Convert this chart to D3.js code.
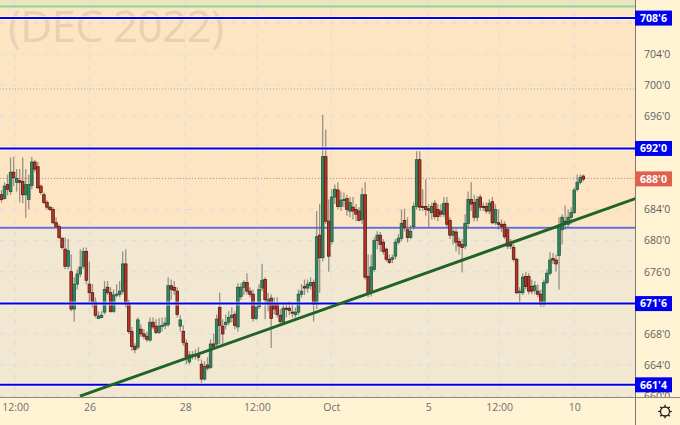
<!DOCTYPE html>
<html>
<head>
<meta charset="utf-8">
<script src="https://cdnjs.cloudflare.com/ajax/libs/d3/7.8.5/d3.min.js"></script>
<style>
  html, body { margin: 0; padding: 0; background: #fff3d4; }
  svg { display: block; }
  text { font-family: "Open Sans", sans-serif; }
</style>
</head>
<body>
<div id="chart"></div>
<script>
// candles
const opens = [685.9,685.4,687.2,686.3,688.8,687.5,687.7,687.6,685.9,685.3,687.1,690.1,689.5,687,685.9,684.9,684.3,684,682.3,681.8,680.3,678.9,676.7,676,671.2,674.4,675.7,676.7,678.6,674.4,673.3,672.1,670,670.1,670.8,674,673.3,670.9,673,673.1,673.5,677,671.8,668.3,666.4,666.3,668.6,668,667.7,667.2,669.5,669,668.2,669,669.1,669.2,674.2,674,673.5,669,668.3,666.8,664.4,665.1,665.3,665.3,664.1,662.2,664,663.7,666.7,666.7,671.4,669,669.2,669.5,670.1,670.5,668.9,672.8,674,674.6,673.5,673.1,670,671.5,673.9,675,671.8,672.6,671.8,671.8,670.4,669.5,671.3,671.3,670.8,670.5,670.8,673.1,674.1,673.9,674.2,674.6,671.8,680.7,677.8,690.8,682.5,679.9,685.6,686.5,684.4,685.2,685.4,683.8,684.3,684,683.8,682.7,685.9,675.4,673.3,676.3,680,680.7,679.8,678.9,677.6,677.6,678,679.8,680.3,682.6,681.4,680.4,681.8,684.4,690.4,684.4,684.4,684.1,683.6,684.8,684,683.8,683.4,684.8,682.6,680.7,681.1,679.9,679.5,679.3,682.2,685.3,684.9,683,685.6,684.4,684.4,683.8,685,682.3,682.3,682.1,682.1,681.4,679.5,679.1,677.6,673.3,673.3,675.4,675.4,674.1,673.6,673.5,673.1,671.8,674.6,675.8,677.7,677.5,678.1,681.4,682.5,682.1,683,683.6,686.6,687.5,688.3];
const closes = [685.3,687,686.6,688.8,688.1,688,687.5,685.9,687.2,687.2,690.1,689.2,686.8,686.2,684.9,684.3,684,682.3,681.8,680.4,679.1,676.7,678.7,671.2,674.4,675.7,676.6,678.6,674.9,673.3,672.2,670.4,670.3,670.4,673.7,673.3,670.9,673,673.1,673.5,677,671.8,668.3,666.4,666,669.8,668,667.7,667.3,669.5,668.9,668.2,669,669.1,669.4,674.2,673.7,673.6,670.5,669.8,666.9,665.1,665.3,665.3,665.4,665,662.2,663.8,663.6,666.7,666.4,669.9,669.1,668,669.5,670.1,670.4,669.1,674,674,674.6,673.5,673.1,670,671.4,673.7,674.9,672.4,672.4,670,671.2,670.5,669.6,671.3,671.2,671,670.7,670.8,673.1,673.5,673.9,674.4,674.6,671.8,680.5,677.8,690.8,682.5,678,685.6,686.6,684.4,685.2,685.3,684,684.9,683.8,683.4,682.6,685.9,675.3,673.3,676.6,680,680.7,679.5,678.6,677.6,677.2,677.8,679.8,680.3,682.2,681.7,680.4,681.2,684.4,690.4,684.3,684.3,684,683.9,684.4,683.1,683.1,683.4,684.8,682.1,680.7,681.2,679.8,679.3,679.1,682.2,685.3,684.7,683,685.3,684.3,684.3,683.8,684.8,682.3,684,682.1,681.8,680.5,679.3,679.3,677.6,673.3,673.5,675.3,674.1,673.5,673.5,674.2,673.1,671.8,674.6,675.8,677.5,677.5,677,682,683,682.2,683,683.6,686.5,687.5,688.1,687.9];
const highs = [686.5,687.5,688.5,690.7,690.8,689.2,689.2,690.7,689.2,688.5,690.8,690.4,690.1,687.2,686.2,685.2,684.4,684.3,683,682.1,680.5,680.4,680.2,678.2,675.3,676.3,678.9,679.1,679.1,677.3,674.4,672.7,670.9,670.9,674.8,674.8,674,673.7,674.4,674.8,678.6,678.9,672.4,668.9,666.8,670.1,669.2,668.6,668.3,670.1,670.1,669.9,670,670.1,670.1,675.3,675,674.8,674,670.4,669.1,667.3,665.8,665.8,666,666.3,664.7,664.5,665,667.3,668,670.5,673.3,669.9,670.5,670.9,671.4,670.9,674.5,674.5,674.9,675.8,674,673.7,671.8,674.4,677,675.3,673.3,673.1,672.7,672.7,671.2,671.8,672.1,672.2,671.8,671.4,673.7,674.4,675,675,675.3,675,683.8,684.7,696.2,694.3,685.3,686.6,687.2,687.5,686.3,686.2,685.9,685.6,685.6,684.7,684.3,686.8,687.5,678.2,678.2,680.4,681.2,681.1,680.2,679.1,678.2,678.2,680.2,680.8,684,684.1,683,682,684.9,691.5,691.5,686.6,687.9,684.7,684.9,685.2,684.7,684.7,685.6,685.6,683,681.7,681.7,680.4,680.2,683.4,686.3,687.5,685.9,685.7,685.9,684.9,684.9,685.3,685.6,684.7,684,682.7,682.5,681.7,680.2,679.5,677.8,674,675.8,676,675.8,675,674.8,674.4,673.7,675,676.3,678.5,678.4,678.2,683,683.4,684.5,684,684.3,686.8,688.5,688.5,688.5];
const lows = [684.9,685.3,685.8,685.9,687,686.3,684.9,684.8,682.9,684,686.6,688.8,686.6,685.9,684.7,684,683.8,682.1,681.6,680.2,678.9,676.3,676.3,670.9,669.6,673.7,675.3,676.3,674.4,671.8,671.4,670.1,669.9,670,670.5,673,670.7,670.7,672.7,672.7,673.1,671.4,668,665.8,665.5,666,667.6,667.3,667,667,668.6,668,668,668.3,668.6,668.9,672.4,673,670.1,668.3,666.5,664.1,664.1,664.7,664.7,664.5,661.5,662,663.3,663.5,666,666.4,666.7,666.7,668.6,669.1,669.5,668.6,668.3,672.4,673,673.1,672.7,669.6,669.8,671.2,673.5,669.9,670.9,666.2,670.5,670.1,669.1,669.2,670.1,670.4,670.1,670.1,670.4,672.7,673,673.3,673.7,669.6,671.2,673.3,677.3,682.1,676,679.5,684.7,684,683.8,684.3,683.2,683,682.7,682.5,682.5,682.1,675,672.7,672.8,676,678.9,678.6,678.2,677.3,677,677.1,677.6,679.5,679.9,681.2,679.8,680.2,681.4,684,683.8,683.8,683.2,681.7,682.7,682.7,682.5,683,683,681.7,680.2,679.5,678.6,678.2,675.9,678.9,681.7,683.8,682.5,682.5,683.8,683.8,683.5,683.4,682.1,682,681.4,681.1,680.2,678.9,678.9,677.3,673.1,672.1,673,673.7,673.1,673.1,673.1,672.7,671.5,671.5,674.4,675.5,677,676,673.7,679.5,681.4,681.7,682.1,683.4,686.3,687.2,687.6];

// price levels
const tickPrices = [708, 704, 700, 696, 692, 688, 684, 680, 676, 672, 668, 664, 660];
const bluePrices = [708.62, 691.85, 671.9, 661.45];
const blueLabels = ["708'6", "692'0", "671'6", "661'4"];
const zoneTop = 710.1, zoneSplit = 681.65, dottedLevel = 699.5;
const lastPrice = 688, lastLabel = "688'0";

// time axis, positions given in candle numbers
const timeTicks = [4.5, 29, 60.6, 84.3, 108.8, 140.8, 164.2, 189];
const timeLabels = ["12:00", "26", "28", "12:00", "Oct", "5", "12:00", "10"];

// trend line ends, candle number and price
const trendIdx = [25.9, 209.2];
const trendPrice = [660, 685.4];

const width = 680, height = 425;
const plotW = 635, plotH = 397;

const x = d3.scaleLinear().domain([0, 192]).range([1.5, 583.3]);
const y = d3.scaleLinear().domain([704, 664]).range([54, 365]);

const svg = d3.select("#chart").append("svg")
    .attr("width", width)
    .attr("height", height);

svg.append("defs").append("clipPath").attr("id", "plotClip")
    .append("rect").attr("width", plotW).attr("height", plotH);

// Backgrounds
svg.append("rect").attr("width", width).attr("height", height).attr("fill", "#fff3d4");
const plot = svg.append("g").attr("clip-path", "url(#plotClip)");
plot.append("rect").attr("width", plotW).attr("height", plotH).attr("fill", "#f2e7d1");
plot.append("rect").attr("width", plotW).attr("y", y(zoneTop))
    .attr("height", y(zoneSplit) - y(zoneTop)).attr("fill", "#fde5c3");
plot.append("rect").attr("width", plotW).attr("height", y(zoneTop)).attr("fill", "#ebe4bd");

// Watermark
plot.append("text")
    .attr("x", 8).attr("y", 42)
    .attr("font-size", 44)
    .attr("textLength", 216)
    .attr("fill", "rgba(120, 100, 80, 0.18)")
    .text("(DEC 2022)");

// Grid
plot.append("g").selectAll("line").data(tickPrices).join("line")
    .attr("x1", 0).attr("x2", plotW)
    .attr("y1", d => y(d)).attr("y2", d => y(d))
    .attr("stroke", "#dcdcdc").attr("stroke-width", 1).attr("stroke-dasharray", "5 6");
plot.append("g").selectAll("line").data(timeTicks).join("line")
    .attr("x1", d => x(d)).attr("x2", d => x(d))
    .attr("y1", 0).attr("y2", plotH)
    .attr("stroke", "#dcdcdc").attr("stroke-width", 1).attr("stroke-dasharray", "5 6");

// Zone edges and dotted levels
plot.append("line").attr("x1", 0).attr("x2", plotW)
    .attr("y1", y(zoneTop)).attr("y2", y(zoneTop))
    .attr("stroke", "#8ed6a0").attr("stroke-width", 2);
plot.append("line").attr("x1", 0).attr("x2", plotW)
    .attr("y1", y(dottedLevel)).attr("y2", y(dottedLevel))
    .attr("stroke", "#a8a8a8").attr("stroke-dasharray", "1 2");
plot.append("line").attr("x1", 0).attr("x2", plotW)
    .attr("y1", y(lastPrice)).attr("y2", y(lastPrice))
    .attr("stroke", "#e0807a").attr("stroke-dasharray", "1 2");
plot.append("line").attr("x1", 0).attr("x2", plotW)
    .attr("y1", y(zoneSplit) - 1.5).attr("y2", y(zoneSplit) - 1.5)
    .attr("stroke", "#fff7c8").attr("stroke-width", 1);
plot.append("line").attr("x1", 0).attr("x2", plotW)
    .attr("y1", y(zoneSplit)).attr("y2", y(zoneSplit))
    .attr("stroke", "#6a6ae0").attr("stroke-width", 2);

// Candles
const candles = d3.range(opens.length);
plot.append("g").selectAll("line").data(candles).join("line")
    .attr("x1", i => x(i)).attr("x2", i => x(i))
    .attr("y1", i => y(highs[i])).attr("y2", i => y(lows[i]))
    .attr("stroke", "rgba(110, 110, 105, 0.7)").attr("stroke-width", 1.3);
plot.append("g").selectAll("rect").data(candles).join("rect")
    .attr("x", i => x(i) - 1.3)
    .attr("width", 2.6)
    .attr("y", i => y(Math.max(opens[i], closes[i])))
    .attr("height", i => Math.max(1, Math.abs(y(opens[i]) - y(closes[i]))))
    .attr("fill", i => closes[i] >= opens[i] ? "#37855f" : "#bb3426")
    .attr("stroke", i => closes[i] >= opens[i] ? "#1d5a42" : "#551a12")
    .attr("stroke-width", 0.8);

// Blue levels
plot.append("g").selectAll("line").data(bluePrices).join("line")
    .attr("x1", 0).attr("x2", plotW)
    .attr("y1", d => y(d)).attr("y2", d => y(d))
    .attr("stroke", "rgba(255, 255, 240, 0.6)").attr("stroke-width", 4);
plot.append("g").selectAll("line").data(bluePrices).join("line")
    .attr("x1", 0).attr("x2", plotW)
    .attr("y1", d => y(d)).attr("y2", d => y(d))
    .attr("stroke", "#0000e6").attr("stroke-width", 2);

// Trend line
plot.append("line")
    .attr("x1", x(trendIdx[0])).attr("y1", y(trendPrice[0]))
    .attr("x2", x(trendIdx[1])).attr("y2", y(trendPrice[1]))
    .attr("stroke", "#1f6427").attr("stroke-width", 3);

// Axes
const yAxis = d3.axisRight(y)
    .tickValues(tickPrices.filter(d => d !== 708 && d !== 692 && d !== 688 && d !== 672))
    .tickSize(0).tickPadding(9)
    .tickFormat(d => d + "'0");
const yG = svg.append("g").attr("transform", `translate(${plotW},0)`).call(yAxis);
yG.select(".domain").remove();
yG.selectAll("text").attr("font-size", 10.5).attr("fill", "#5f5f5f")
    .attr("font-family", "'Open Sans', sans-serif");

const xAxis = d3.axisBottom(x)
    .tickValues(timeTicks)
    .tickSize(0).tickPadding(7)
    .tickFormat((d, i) => timeLabels[i]);
const xG = svg.append("g").attr("transform", `translate(0,${plotH})`).call(xAxis);
xG.select(".domain").remove();
xG.selectAll("text").attr("font-size", 10.5).attr("fill", "#6f6f6f")
    .attr("font-family", "'Open Sans', sans-serif");

// Hide anything under the time strip
svg.append("rect").attr("x", plotW).attr("y", plotH).attr("width", 45).attr("height", 28).attr("fill", "#fff3d4");
svg.append("line").attr("x1", 0).attr("x2", width).attr("y1", plotH + 0.5).attr("y2", plotH + 0.5)
    .attr("stroke", "#8a8a84").attr("stroke-width", 1);
svg.append("line").attr("x1", plotW + 0.5).attr("x2", plotW + 0.5).attr("y1", 0).attr("y2", height)
    .attr("stroke", "#7a7a74").attr("stroke-width", 1);

// Price flags
const flags = svg.append("g").selectAll("g").data(bluePrices).join("g")
    .attr("transform", d => `translate(${plotW},${y(d)})`);
flags.append("rect").attr("y", -7.5).attr("width", 37).attr("height", 15).attr("fill", "#0000f0");
flags.append("text").attr("x", 18.5).attr("dy", "0.35em").attr("text-anchor", "middle")
    .attr("font-size", 10.5).attr("font-weight", 700).attr("fill", "#fff")
    .text((d, i) => blueLabels[i]);

const lastFlag = svg.append("g").attr("transform", `translate(${plotW},${y(lastPrice) + 0.5})`);
lastFlag.append("rect").attr("y", -7.5).attr("width", 37).attr("height", 15).attr("fill", "#e0604f");
lastFlag.append("text").attr("x", 18.5).attr("dy", "0.35em").attr("text-anchor", "middle")
    .attr("font-size", 10.5).attr("font-weight", 700).attr("fill", "#fff")
    .text(lastLabel);

// Settings gear
const gear = svg.append("g").attr("transform", "translate(665,411.5)")
    .attr("stroke", "#222").attr("fill", "none");
gear.append("circle").attr("r", 4.5).attr("stroke-width", 1.3);
gear.selectAll("line").data(d3.range(8)).join("line")
    .attr("x1", d => 4.5 * Math.cos(d * Math.PI / 4)).attr("y1", d => 4.5 * Math.sin(d * Math.PI / 4))
    .attr("x2", d => 6.8 * Math.cos(d * Math.PI / 4)).attr("y2", d => 6.8 * Math.sin(d * Math.PI / 4))
    .attr("stroke-width", 1.3);
</script>
</body>
</html>
